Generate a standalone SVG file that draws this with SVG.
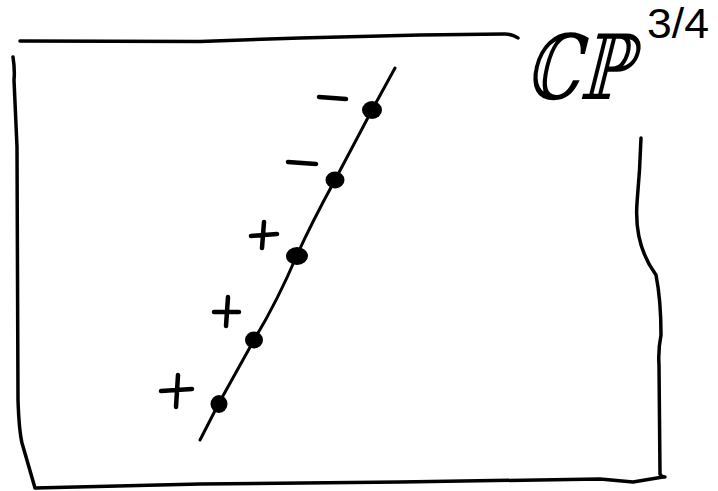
<svg xmlns="http://www.w3.org/2000/svg" width="718" height="491" viewBox="0 0 718 491">
  <style>
    .ink { fill: none; stroke: #000; stroke-linecap: round; stroke-linejoin: round; }
    .frame { stroke-width: 3.5; }
    .curve { stroke-width: 3; }
    .sign { stroke-width: 4.5; }
    .dot { fill: #000; }
    .title { font-family: "DejaVu Serif", "DejaVu Sans", serif; fill: #000; }
    .sup { font-family: "Liberation Sans", "DejaVu Sans", sans-serif; fill: #000; }
  </style>
  <rect width="718" height="491" fill="#fff"/>

  <g id="frame">
    <path class="ink frame" d="M20,41 L200,41.5 L300,38 L420,35 L505,34 Q513,34 518,38"/>
    <path class="ink frame" d="M13,57 Q15,70 14,80 L17,147 L18,400 Q19,430 22,443 L35,488 L200,484 L400,482 L600,479 L633,482 L663,477"/>
    <path class="ink frame" d="M641,138 Q640,170 637,203 Q634,245 656,275 Q661,300 661,335 Q658,350 659,365 L660,474 Q661,477 665,477"/>
  </g>

  <g id="title">
    <text class="title" x="524" y="99" font-size="90" textLength="106" lengthAdjust="spacingAndGlyphs" transform="skewX(-14) translate(24.6,0)">ℂℙ</text>
    <text class="sup" x="647" y="38" font-size="42" textLength="62" lengthAdjust="spacingAndGlyphs">3/4</text>
  </g>

  <g id="connectors">
    <path class="ink curve" d="M395,68 L372,110 L335,180 Q312,222 297,255 Q278,300 254,340 L219,403 L200,440"/>
  </g>

  <g id="node1">
    <ellipse class="dot" cx="372" cy="110" rx="10" ry="9"/>
    <path class="ink sign" d="M319,97 L346,99"/>
  </g>
  <g id="node2">
    <ellipse class="dot" cx="335" cy="180" rx="9.5" ry="8.5"/>
    <path class="ink sign" d="M288,162 L316,164"/>
  </g>
  <g id="node3">
    <ellipse class="dot" cx="297" cy="256" rx="11" ry="9"/>
    <path class="ink sign" d="M251,236 L277,234 M264,222 L262,248"/>
  </g>
  <g id="node4">
    <ellipse class="dot" cx="254" cy="340" rx="9" ry="8.5"/>
    <path class="ink sign" d="M214,312 L239,312 M228,297 L226,326"/>
  </g>
  <g id="node5">
    <ellipse class="dot" cx="219" cy="404" rx="8.5" ry="9"/>
    <path class="ink sign" d="M161,391 L192,389 M178,375 L176,407"/>
  </g>
</svg>
